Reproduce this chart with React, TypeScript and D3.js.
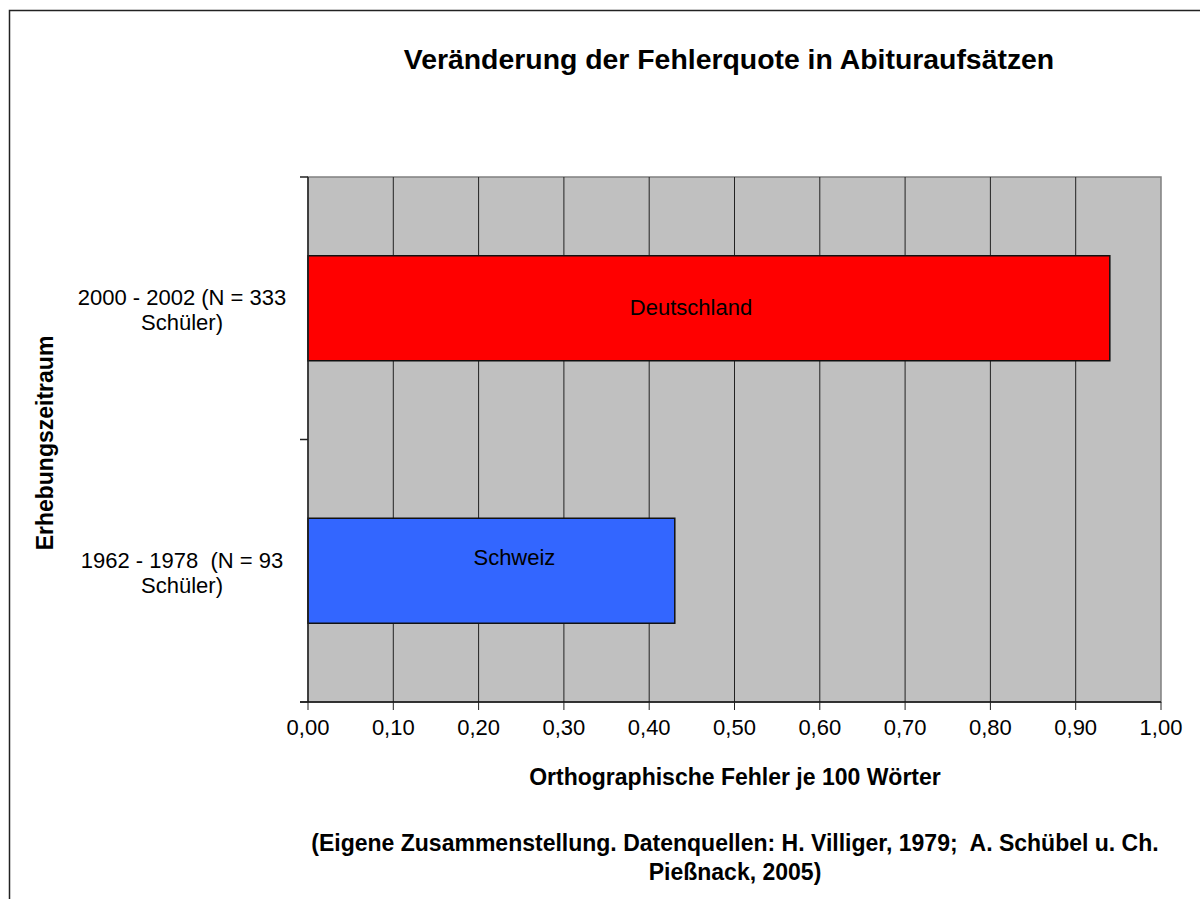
import React from "react";
import * as d3 from "d3";

// Data
const periods = ["2000 - 2002 (N = 333 Schüler)", "1962 - 1978  (N = 93 Schüler)"];
const periodLines = [
  ["2000 - 2002 (N = 333", "Schüler)"],
  ["1962 - 1978  (N = 93", "Schüler)"],
];
const countries = ["Deutschland", "Schweiz"];
const errorRates = [0.94, 0.43];
const barColors = ["#ff0000", "#3366ff"];
const xTicks = [0, 0.1, 0.2, 0.3, 0.4, 0.5, 0.6, 0.7, 0.8, 0.9, 1.0];

const width = 1200;
const height = 899;
const plot = { left: 308, right: 1161, top: 177, bottom: 702 };
const font = "'Liberation Sans', Arial, sans-serif";
// where Excel dropped the series-name labels inside the bars
const labelAt = [0.449, 0.242];
const labelDy = [7, -6];

const App = () => {
  const x = d3.scaleLinear().domain([0, 1]).range([plot.left, plot.right]);
  const y = d3
    .scaleBand()
    .domain(periods)
    .range([plot.top, plot.bottom])
    .paddingInner(0.6)
    .paddingOuter(0.3);

  const fmt = (v) => d3.format(".2f")(v).replace(".", ",");
  const catEdges = [plot.top, plot.top + y.step(), plot.bottom];

  return (
    <svg
      width={width}
      height={height}
      style={{ position: "absolute", left: 0, top: 0, background: "#fff" }}
      fontFamily={font}
    >
      {/* outer chart border */}
      <rect x={9.5} y={10.5} width={1300} height={1000} fill="none" stroke="#222" strokeWidth={1.5} />

      <text x={729} y={69} textAnchor="middle" fontSize={28.4} fontWeight="bold" fill="#000">
        Veränderung der Fehlerquote in Abituraufsätzen
      </text>

      {/* plot area */}
      <rect
        x={plot.left}
        y={plot.top}
        width={plot.right - plot.left}
        height={plot.bottom - plot.top}
        fill="#c0c0c0"
        stroke="#808080"
        strokeWidth={1.5}
      />

      {/* vertical gridlines */}
      {xTicks.slice(1, -1).map((t) => (
        <line key={t} x1={x(t)} x2={x(t)} y1={plot.top} y2={plot.bottom} stroke="#222" strokeWidth={1} />
      ))}

      {/* bars */}
      {periods.map((p, i) => (
        <g key={p}>
          <rect
            x={x(0)}
            y={y(p)}
            width={x(errorRates[i]) - x(0)}
            height={y.bandwidth()}
            fill={barColors[i]}
            stroke="#111"
            strokeWidth={1.5}
          />
          <text
            x={x(labelAt[i])}
            y={y(p) + y.bandwidth() / 2 + labelDy[i]}
            textAnchor="middle"
            fontSize={22}
            fill="#000"
          >
            {countries[i]}
          </text>
        </g>
      ))}

      {/* axes */}
      <line x1={plot.left} x2={plot.left} y1={plot.top} y2={plot.bottom} stroke="#222" strokeWidth={1.5} />
      <line x1={plot.left - 8} x2={plot.right} y1={plot.bottom} y2={plot.bottom} stroke="#111" strokeWidth={1.5} />
      {catEdges.map((e) => (
        <line key={e} x1={plot.left - 8} x2={plot.left} y1={e} y2={e} stroke="#222" strokeWidth={1.5} />
      ))}
      {xTicks.map((t) => (
        <g key={t}>
          <line x1={x(t)} x2={x(t)} y1={plot.bottom} y2={plot.bottom + 8} stroke="#222" strokeWidth={1} />
          <text x={x(t)} y={735} textAnchor="middle" fontSize={22} fill="#000">
            {fmt(t)}
          </text>
        </g>
      ))}

      {/* category labels */}
      {periods.map((p, i) => (
        <text key={p} textAnchor="middle" fontSize={22} fill="#000" xmlSpace="preserve">
          {periodLines[i].map((l, j) => (
            <tspan key={j} x={182} y={y(p) + y.bandwidth() / 2 - 3 + j * 25}>
              {l}
            </tspan>
          ))}
        </text>
      ))}

      <text x={735} y={785} textAnchor="middle" fontSize={23} fontWeight="bold" fill="#000">
        Orthographische Fehler je 100 Wörter
      </text>
      <text
        transform={`translate(53,443) rotate(-90)`}
        textAnchor="middle"
        fontSize={23}
        fontWeight="bold"
        fill="#000"
      >
        Erhebungszeitraum
      </text>

      <text textAnchor="middle" fontSize={23} fontWeight="bold" fill="#000" xmlSpace="preserve">
        <tspan x={735} y={851}>
          {"(Eigene Zusammenstellung. Datenquellen: H. Villiger, 1979;  A. Schübel u. Ch."}
        </tspan>
        <tspan x={735} y={880}>
          Pießnack, 2005)
        </tspan>
      </text>
    </svg>
  );
};

export default App;
